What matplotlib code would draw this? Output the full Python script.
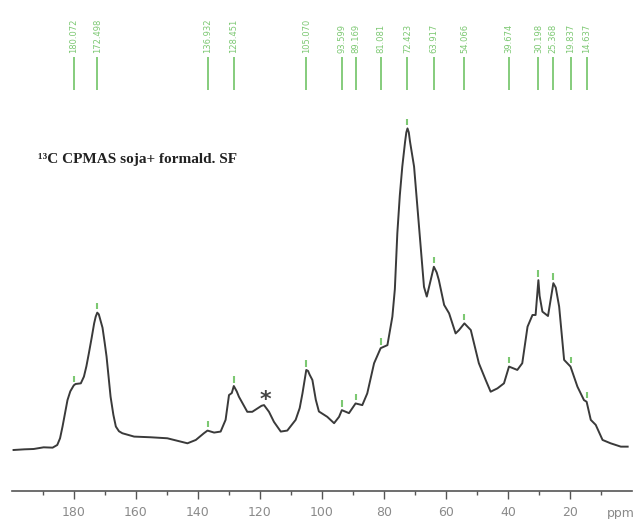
import matplotlib.pyplot as plt
import numpy as np

#####
# DATA
#####

# 13C CPMAS trace: chemical shift [ppm] and intensity [a.u.]
ppm = [199.5, 196.0, 193.0, 189.8, 186.9, 185.4, 184.5, 183.7, 182.9, 182.1,
	181.2, 180.072, 179.5, 177.8, 176.8, 176.0, 175.2, 174.3, 173.5, 173.0,
	172.498, 172.0, 171.6, 170.8, 170.1, 169.5, 168.2, 167.3, 166.5, 165.5,
	164.4, 160.6, 155.3, 149.9, 147.7, 143.4, 140.7, 138.1, 136.932, 134.8,
	132.7, 131.1, 130.0, 129.1, 128.451, 127.5, 126.8, 124.1, 122.5, 120.8,
	119.5, 118.7, 117.1, 115.5, 113.3, 111.2, 108.5, 107.2, 106.3, 105.6,
	105.070, 104.5, 104.0, 103.1, 102.0, 101.0, 99.0, 98.3, 96.1, 94.5,
	93.599, 91.3, 89.169, 87.0, 85.4, 83.2, 81.081, 78.9, 77.3, 76.5,
	75.7, 74.9, 74.1, 73.2, 72.8, 72.423, 72.0, 71.6, 70.3, 68.7,
	67.1, 66.2, 65.5, 64.9, 63.917, 63.0, 62.3, 60.6, 59.0, 56.9,
	55.8, 54.066, 52.0, 49.4, 47.2, 45.6, 43.4, 41.3, 39.674, 37.0,
	35.4, 33.7, 32.1, 31.1, 30.7, 30.198, 29.8, 28.9, 27.1, 26.2,
	25.368, 24.6, 23.5, 21.9, 19.837, 17.6, 15.5, 14.637, 13.3, 11.7,
	9.5, 6.9, 3.6, 1.4]
intensity = [0.0, 0.2, 0.3, 0.8, 0.7, 1.5, 3.5, 7.0, 11.0, 14.9,
	17.5, 19.3, 19.7, 19.9, 21.9, 25.0, 28.9, 33.5, 37.8, 39.8,
	41.0, 40.5, 39.2, 36.5, 32.0, 27.9, 15.9, 10.5, 7.0, 5.6,
	5.0, 4.0, 3.8, 3.5, 3.0, 2.0, 3.0, 5.0, 5.8, 5.2,
	5.5, 9.0, 16.4, 17.0, 19.1, 17.5, 15.9, 11.4, 11.4, 12.4,
	13.2, 13.4, 11.4, 8.4, 5.5, 5.8, 9.0, 12.5, 16.9, 21.0,
	23.9, 23.6, 22.5, 20.9, 15.0, 11.5, 10.3, 9.9, 8.0, 9.9,
	11.9, 11.0, 13.9, 13.4, 16.9, 25.9, 30.4, 31.3, 39.8, 48.0,
	64.7, 76.0, 84.6, 92.0, 94.8, 96.0, 94.8, 92.0, 84.6, 66.7,
	48.7, 45.8, 48.5, 50.7, 54.7, 53.0, 50.7, 43.3, 40.8, 34.8,
	35.8, 37.8, 35.8, 25.9, 20.9, 17.4, 18.4, 19.9, 24.9, 23.9,
	25.9, 36.8, 40.3, 40.3, 45.0, 50.7, 46.0, 41.3, 40.0, 45.0,
	49.8, 48.5, 42.8, 26.9, 24.9, 18.9, 14.9, 14.4, 9.0, 7.5,
	3.0, 2.0, 1.0, 1.0]

# picked peaks
peak_ppm = [180.072, 172.498, 136.932, 128.451, 105.070, 93.599, 89.169,
	81.081, 72.423, 63.917, 54.066, 39.674, 30.198, 25.368, 19.837, 14.637]
peak_labels = ["180.072", "172.498", "136.932", "128.451", "105.070", "93.599",
	"89.169", "81.081", "72.423", "63.917", "54.066", "39.674", "30.198",
	"25.368", "19.837", "14.637"]

major_ticks = [180, 160, 140, 120, 100, 80, 60, 40, 20]
minor_ticks = [190, 170, 150, 130, 110, 90, 70, 50, 30, 10]

#####
# STYLE
#####

line_color = "#3a3a3a"
peak_color = "#7cc872"
axis_color = "#555555"
label_color = "#8a8a8a"

#####
# FIGURE
#####

fig = plt.figure(figsize=(6.35, 5.19), dpi=100)
ax = fig.add_axes([12/635, 28/519, 620/635, 491/519])
ax.set_xlim(200, 0)
ax.set_ylim(-12.24, 134.33)

for side in ["left", "right", "top"]:
	ax.spines[side].set_visible(False)
ax.spines["bottom"].set_color(axis_color)
ax.spines["bottom"].set_linewidth(1.2)
ax.set_yticks([])
ax.set_xticks(major_ticks)
ax.set_xticks(minor_ticks, minor=True)
ax.tick_params(axis="x", which="major", length=6, width=1, color=axis_color,
	labelcolor=label_color, labelsize=9, pad=5)
ax.tick_params(axis="x", which="minor", length=3, width=1, color=axis_color)
ax.text(8.0, -0.045, "ppm", transform=ax.get_xaxis_transform(), ha="left",
	va="center", fontsize=9, color=label_color, clip_on=False)

# spectrum
ax.plot(ppm, intensity, color=line_color, linewidth=1.4,
	solid_joinstyle="round")

# peak list on top
ax.vlines(peak_ppm, 107.5, 117.3, color=peak_color, linewidth=1.3)
for p, lab in zip(peak_ppm, peak_labels):
	ax.text(p, 118.6, lab, rotation=90, ha="center", va="bottom",
		fontsize=6, color=peak_color)

# small markers above each picked peak
h = np.interp(peak_ppm, ppm[::-1], intensity[::-1])
ax.vlines(peak_ppm, h + 1.0, h + 2.9, color=peak_color, linewidth=1.5)

# annotations
ax.text(191.7, 86.6, "¹³C CPMAS soja+ formald. SF", family="Liberation Serif",
	fontweight="bold", fontsize=11, va="center", ha="left", color="#222222")
ax.text(118.1, 15.0, "*", fontsize=16, color="#444444", ha="center",
	va="center", fontweight="bold")

fig.savefig("out.png", dpi=100)
